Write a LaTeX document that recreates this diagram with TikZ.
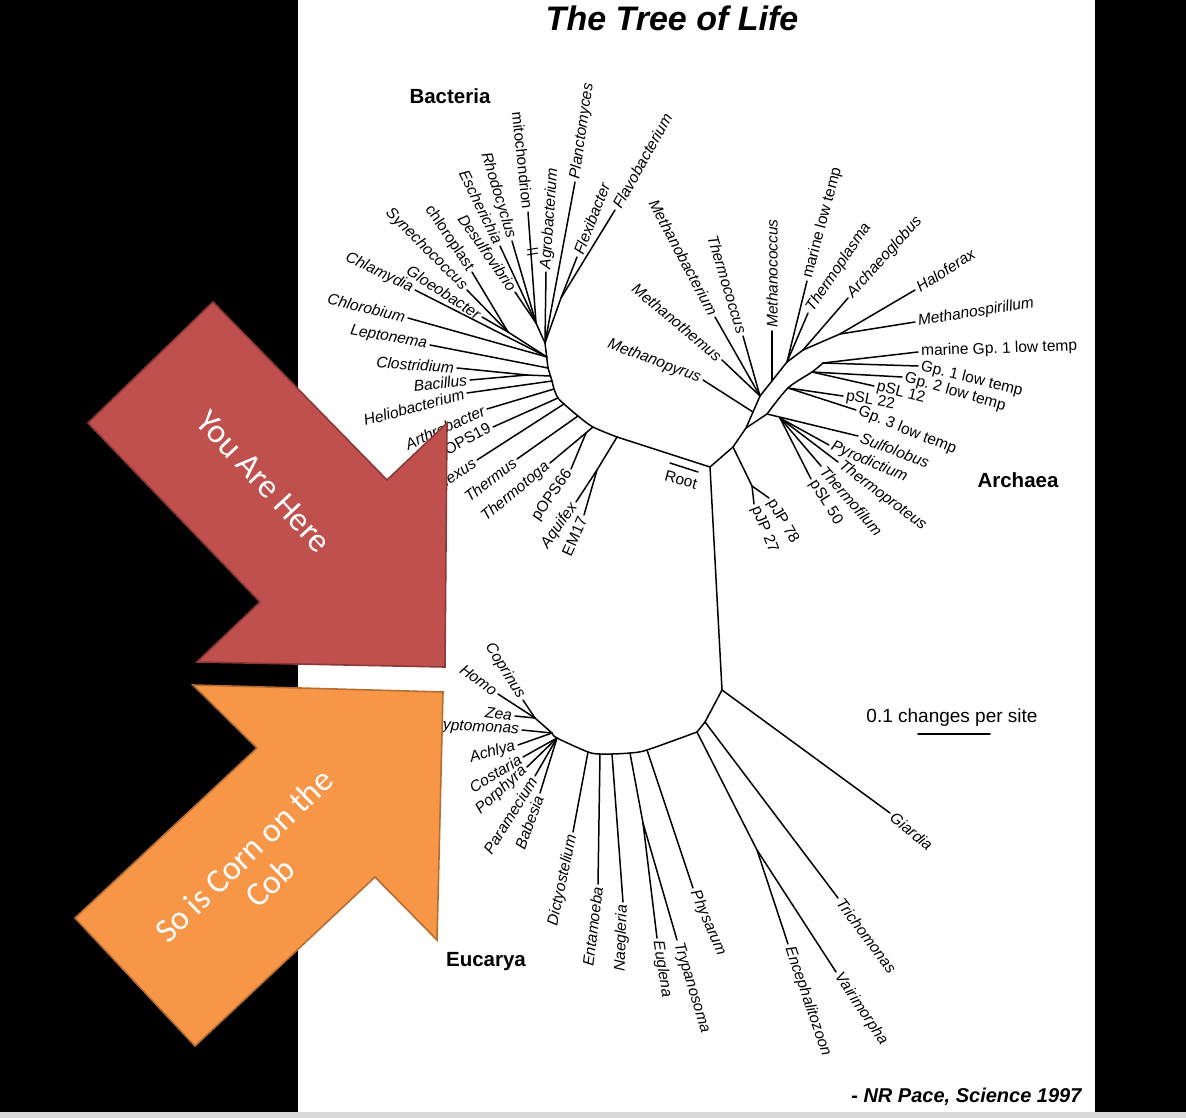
\documentclass[tikz,border=0pt]{standalone}
\usepackage{fontspec}
\setmainfont{Liberation Sans}
\newfontfamily\calibri{Carlito}
\usetikzlibrary{positioning}

\definecolor{herered}{HTML}{C0504D}
\definecolor{hereline}{HTML}{8C3836}
\definecolor{cornorange}{HTML}{F79646}
\definecolor{cornline}{HTML}{B66D31}
\definecolor{stripgray}{HTML}{D9D9D9}

\begin{document}
\frenchspacing
\begin{tikzpicture}[x=1pt,y=-1pt,
  branch/.style={line width=1.5pt,line cap=round,line join=round},
  genus/.style={font=\fontsize{15.5}{17}\selectfont\itshape,inner sep=3pt},
  clone/.style={font=\fontsize{15.5}{17}\selectfont,inner sep=3pt},
  domainlbl/.style={font=\fontsize{20.5}{22}\selectfont\bfseries},
  pointer/.style={line width=1.6pt,line join=miter},
  pointertext/.style={font=\calibri\fontsize{34}{40}\selectfont,text=white,align=center}]
  \useasboundingbox (0,0) rectangle (1186,1118);
  % slide background
  \fill[black] (0,0) rectangle (1186,1118);
  \fill[white] (298,0) rectangle (1095,1112);
  \fill[stripgray] (0,1112) rectangle (1186,1118);

  \node[font=\fontsize{34}{36}\selectfont\bfseries\itshape] (title) at (672,18) {The Tree of Life};
  \node[domainlbl] (bacteria) at (450,96) {Bacteria};
  \node[domainlbl] (archaea) at (1018,480) {Archaea};
  \node[domainlbl] (eucarya) at (486,962) {Eucarya};

  % inner junctions
  \coordinate (R) at (710,467);
  \coordinate (A0) at (548,368);
  \coordinate (A1) at (550,376);
  \coordinate (A2) at (552,381);
  \coordinate (A3) at (554,389);
  \coordinate (A4) at (558,398);
  \coordinate (A5) at (564,404);
  \coordinate (A6) at (578,416);
  \coordinate (A7) at (593,427);
  \coordinate (A8) at (617,437);
  \coordinate (jUp) at (545,343);
  \coordinate (jL) at (547,357);
  \coordinate (jFx) at (561,298);
  \coordinate (jMi) at (536,323);
  \coordinate (jCh) at (508,332);
  \coordinate (jCB) at (527,375);
  \coordinate (jTp) at (586,433);
  \coordinate (jAq) at (597,470);

  \coordinate (aA) at (733,447);
  \coordinate (aB) at (746,428);
  \coordinate (aP) at (752,486);
  \coordinate (aM) at (753,412);
  \coordinate (aE1) at (760,396);
  \coordinate (aMc) at (772,381);
  \coordinate (aE2) at (787,362);
  \coordinate (aE3) at (803,350);
  \coordinate (aE4) at (840,334);
  \coordinate (c0) at (767,414);
  \coordinate (c1) at (780,418);
  \coordinate (r1) at (788,388);
  \coordinate (r2) at (812,372);
  \coordinate (r3) at (823,363);

  \coordinate (E0) at (722,690);
  \coordinate (e1) at (705,722);
  \coordinate (eA) at (697,732);
  \coordinate (eB) at (647,750);
  \coordinate (eC) at (630,753);
  \coordinate (eD) at (612,754);
  \coordinate (eE) at (600,754);
  \coordinate (eF) at (588,752);
  \coordinate (eG) at (557,738);
  \coordinate (eH) at (552,733);
  \coordinate (jEV) at (757,850);
  \coordinate (jET) at (643,823);
  \coordinate (jHC) at (535,718);

  % backbone
  \draw[branch] plot[smooth] coordinates {(A8) (A7) (A6) (A5) (A4) (A3) (A2) (A0)};
  \draw[branch] (R) -- (A8);
  \draw[branch] (A0) -- (jUp) -- (jFx);
  \draw[branch] (jUp) -- (jMi);
  \draw[branch] (jL) -- (jCh);
  \draw[branch] (A1) -- (jCB);
  \draw[branch] (A8) -- (jAq);
  \draw[branch] (R) -- (aA) -- (aB) -- (aE1) -- (aE2) -- (aE3) -- (aE4);
  \draw[branch] (aA) -- (aP);
  \draw[branch] (aB) -- (c0);
  \draw[branch] plot[smooth] coordinates {(c0) (r1) (r2) (r3)};
  \draw[branch] (R) -- (E0) -- (e1) -- (eA);
  \draw[branch] plot[smooth] coordinates {(eA) (eB) (eC) (eD) (eE) (eF) (eG) (eH)};
  \draw[branch] (eA) -- (jEV);
  \draw[branch] (eC) -- (jET);
  \draw[branch] (jHC) -- (eH);

  % leaves whose text ends at the branch
  \foreach \j/\n/\p/\a/\s/\t in {
    jMi/mito/{(528,212)}/-84/clone/mitochondrion,
    jMi/rhodo/{(512,241)}/-73/genus/Rhodocyclus,
    jMi/esch/{(500,246)}/-64/genus/Escherichia,
    jMi/desulfo/{(515,292)}/-55/genus/Desulfovibrio,
    jCh/chloro/{(472,272)}/-56/clone/chloroplast,
    jCh/synecho/{(467,290)}/-45/genus/Synechococcus,
    jCh/gloeo/{(482,317)}/-33/genus/Gloeobacter,
    jL/chlamy/{(415,290)}/-26/genus/Chlamydia,
    jL/chlorob/{(408,318)}/-14/genus/Chlorobium,
    A0/lepto/{(430,345)}/-10/genus/Leptonema,
    jCB/clost/{(457,368)}/-4/genus/Clostridium,
    jCB/bacil/{(470,380)}/6/genus/Bacillus,
    A2/helio/{(467,393)}/15/genus/Heliobacterium,
    A3/arthro/{(487,409)}/24/genus/Arthrobacter,
    A4/pops19/{(493,427)}/28/clone/pOPS19,
    A5/flexus/{(477,460)}/33/genus/Chloroflexus,
    A6/thermus/{(517,459)}/38/genus/Thermus,
    A7/toga/{(550,463)}/40/genus/Thermotoga,
    jTp/pops66/{(571,469)}/55/clone/pOPS66,
    jAq/aquifex/{(576,502)}/55/genus/Aquifex,
    jAq/em17/{(584,515)}/66/clone/EM17,
    aM/mpyrus/{(703,380)}/-21/genus/Methanopyrus,
    aE1/mthem/{(722,360)}/-40/genus/Methanothemus,
    aE1/mbact/{(715,317)}/-62/genus/Methanobacterium,
    aE1/tcoccus/{(743,336)}/-73/genus/Thermococcus,
    eF/dicty/{(573,832)}/78/genus/Dictyostelium,
    eE/entam/{(598,884)}/83/genus/Entamoeba,
    eD/naeg/{(623,902)}/88/genus/Naegleria,
    jHC/coprinus/{(523,700)}/-58/genus/Coprinus,
    jHC/homo/{(498,694)}/-36/genus/Homo,
    jHC/zea/{(515,716)}/-8/genus/Zea,
    eH/crypto/{(522,730)}/-3/genus/Cryptomonas,
    eH/achlya/{(518,745)}/16/genus/Achlya,
    eG/costaria/{(523,757)}/31/genus/Costaria,
    eG/porphyra/{(527,767)}/42/genus/Porphyra,
    eG/param/{(535,776)}/58/genus/Paramecium,
    eG/babesia/{(540,793)}/70/genus/Babesia}
  {
    \node[\s,rotate=\a,anchor=east] (\n) at \p {\t};
    \draw[branch] (\j) -- (\n.east);
  }

  % leaves whose text starts at the branch
  \foreach \j/\n/\p/\a/\s/\t in {
    jFx/flavo/{(615,210)}/61/genus/Flavobacterium,
    jFx/flexi/{(577,257)}/69/genus/Flexibacter,
    jUp/plancto/{(575,182)}/82/genus/Planctomyces,
    jUp/agro/{(546,272)}/86/genus/Agrobacterium,
    aMc/mcoccus/{(772,331)}/90/genus/Methanococcus,
    aE2/mlow/{(807,281)}/75/clone/marine low temp,
    aE2/tplasma/{(808,313)}/56/genus/Thermoplasma,
    aE3/aglobus/{(848,298)}/48/genus/Archaeoglobus,
    aE4/halo/{(915,290)}/33/genus/Haloferax,
    aE4/mspir/{(915,322)}/9/genus/Methanospirillum,
    r3/mgp1/{(918,352)}/2/clone/marine Gp. 1 low temp,
    r3/gp1/{(918,366)}/-14/clone/Gp. 1 low temp,
    r2/gp2/{(902,377)}/-16/clone/Gp. 2 low temp,
    r2/psl12/{(874,386)}/-14/clone/pSL 12,
    r1/psl22/{(843,396)}/-10/clone/pSL 22,
    r1/gp3/{(856,410)}/-22/clone/Gp. 3 low temp,
    c0/sulfo/{(858,436)}/-21/genus/Sulfolobus,
    c1/pyro/{(829,445)}/-23/genus/Pyrodictium,
    c1/tproteus/{(838,462)}/-37/genus/Thermoproteus,
    c1/tfilum/{(821,466)}/-49/genus/Thermofilum,
    c1/psl50/{(811,479)}/-58/clone/pSL 50,
    aP/pjp78/{(769,498)}/-60/clone/pJP 78,
    aP/pjp27/{(754,504)}/-68/clone/pJP 27,
    E0/giardia/{(890,813)}/-40/genus/Giardia,
    e1/tricho/{(838,898)}/-53/genus/Trichomonas,
    jEV/enceph/{(788,944)}/-71/genus/Encephalitozoon,
    jEV/vairi/{(836,972)}/-56/genus/Vairimorpha,
    eB/physa/{(693,888)}/-67/genus/Physarum,
    jET/eugl/{(657,938)}/-81/genus/Euglena,
    jET/trypa/{(677,940)}/-73/genus/Trypanosoma}
  {
    \node[\s,rotate=\a,anchor=west] (\n) at \p {\t};
    \draw[branch] (\j) -- (\n.west);
  }

  % break mark on the mitochondrion branch
  \draw[line width=1pt] (527,250) -- (538,248) (527,255) -- (538,253);

  % root marker and scale
  \coordinate (rb1) at (670,463);
  \coordinate (rb2) at (698,472);
  \draw[branch] (rb1) -- (rb2);
  \node[clone,rotate=-15] (rootlbl) at (681,480) {Root};
  \node[font=\fontsize{19}{21}\selectfont] (scale) at (952,718) {0.1 changes per site};
  \coordinate (sb1) at (918,734);
  \coordinate (sb2) at (990,734);
  \draw[branch] (sb1) -- (sb2);
  \node[font=\fontsize{20}{22}\selectfont\bfseries\itshape,anchor=east] (cite) at (1085,1097) {- NR Pace, Science 1997};

  % pointers
  \draw[pointer,fill=herered,draw=hereline] (213,302) -- (88,423) -- (260,602) -- (197,662)
    -- (445,667) -- (447,423) -- (387,480) -- cycle;
  \node[pointertext,rotate=-47] (here) at (264,482) {You Are Here};
  \draw[pointer,fill=cornorange,draw=cornline] (193,685) -- (443,692) -- (437,940) -- (375,877)
    -- (195,1046) -- (75,918) -- (257,748) -- cycle;
  \node[pointertext,rotate=44] (corn) at (257,869) {So is Corn on the\\[-2pt]Cob};
\end{tikzpicture}
\end{document}
